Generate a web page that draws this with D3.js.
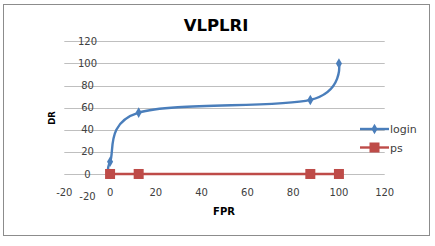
<!DOCTYPE html>
<html>
<head>
<meta charset="utf-8">
<script src="https://cdn.jsdelivr.net/npm/d3@7"></script>
<style>
    body { margin: 0; background: #fff; }
    svg { display: block; }
</style>
</head>
<body>
<div id="chart"></div>
<script>
// VLPLRI - DR vs FPR scatter with smoothed lines

const loginFPR = [0, 0, 12.5, 87.5, 100];
const loginDR = [0, 11, 55.5, 67, 100];
const psFPR = [0, 12.5, 87.5, 100];
const psDR = [0, 0, 0, 0];
const xTicks = [-20, 0, 20, 40, 60, 80, 100, 120];
const yTicks = [-20, 0, 20, 40, 60, 80, 100, 120];
const seriesNames = ['login', 'ps'];

const width = 435;
const height = 246;
const blue = '#4a7ebb';
const red = '#be4b48';
const textColor = '#404040';
const font = 'DejaVu Sans, Verdana, sans-serif';

const svg = d3.select('#chart')
    .append('svg')
    .attr('width', width)
    .attr('height', height);

// outer frame
svg.append('rect')
    .attr('x', 3.5)
    .attr('y', 4.5)
    .attr('width', 426)
    .attr('height', 231)
    .attr('fill', '#fff')
    .attr('stroke', '#8c8c8c')
    .attr('stroke-width', 1);

const xScale = d3.scaleLinear()
    .domain([-20, 120])
    .range([64.3, 384.7]);

const yScale = d3.scaleLinear()
    .domain([-20, 120])
    .range([196.1, 41.3]);

// gridlines (none at the bottom edge)
svg.append('g')
    .selectAll('line')
    .data(yTicks.filter(d => d >= 0))
    .enter()
    .append('line')
    .attr('x1', xScale(-20))
    .attr('x2', xScale(120))
    .attr('y1', d => Math.round(yScale(d)) + 0.5)
    .attr('y2', d => Math.round(yScale(d)) + 0.5)
    .attr('stroke', '#bfbfbf')
    .attr('stroke-width', 1.2);

// y tick labels
svg.append('g')
    .selectAll('text')
    .data(yTicks)
    .enter()
    .append('text')
    .attr('x', 87.5)
    .attr('y', d => yScale(d) + 3.6)
    .attr('text-anchor', 'middle')
    .style('font-family', font)
    .style('font-size', '10px')
    .style('fill', textColor)
    .text(d => d);

// x tick labels
svg.append('g')
    .selectAll('text')
    .data(xTicks)
    .enter()
    .append('text')
    .attr('x', d => xScale(d))
    .attr('y', 195.5)
    .attr('text-anchor', 'middle')
    .style('font-family', font)
    .style('font-size', '10px')
    .style('fill', textColor)
    .text(d => d);

// title
svg.append('text')
    .attr('x', 216)
    .attr('y', 31)
    .attr('text-anchor', 'middle')
    .style('font-family', font)
    .style('font-size', '16.5px')
    .style('font-weight', 'bold')
    .style('fill', '#000')
    .text('VLPLRI');

// axis titles
svg.append('text')
    .attr('x', 224)
    .attr('y', 215)
    .attr('text-anchor', 'middle')
    .style('font-family', font)
    .style('font-size', '10px')
    .style('font-weight', 'bold')
    .style('fill', '#000')
    .text('FPR');

svg.append('text')
    .attr('transform', 'translate(54.5,118) rotate(-90)')
    .attr('text-anchor', 'middle')
    .style('font-family', font)
    .style('font-size', '8.5px')
    .style('font-weight', 'bold')
    .style('fill', '#000')
    .text('DR');

const loginPts = loginFPR.map((x, i) => [xScale(x), yScale(loginDR[i])]);
const psPts = psFPR.map((x, i) => [xScale(x), yScale(psDR[i])]);

const smooth = d3.line().curve(d3.curveCatmullRom.alpha(0));
const straight = d3.line();

// login series
svg.append('path')
    .attr('d', smooth(loginPts))
    .attr('fill', 'none')
    .attr('stroke', blue)
    .attr('stroke-width', 2.4);

const diamond = d3.symbol().type(d3.symbolDiamond).size(32);

svg.append('g')
    .selectAll('path')
    .data(loginPts)
    .enter()
    .append('path')
    .attr('d', diamond)
    .attr('transform', d => `translate(${d[0]},${d[1]})`)
    .attr('fill', blue);

// ps series
svg.append('path')
    .attr('d', straight(psPts))
    .attr('fill', 'none')
    .attr('stroke', red)
    .attr('stroke-width', 2.4);

svg.append('g')
    .selectAll('rect')
    .data(psPts)
    .enter()
    .append('rect')
    .attr('x', d => d[0] - 5)
    .attr('y', d => d[1] - 5)
    .attr('width', 10)
    .attr('height', 10)
    .attr('fill', red);

// legend
const legend = svg.append('g');
const legendY = [129, 147.5];
const legendColors = [blue, red];

seriesNames.forEach((name, i) => {
    legend.append('line')
        .attr('x1', 360)
        .attr('x2', 389)
        .attr('y1', legendY[i])
        .attr('y2', legendY[i])
        .attr('stroke', legendColors[i])
        .attr('stroke-width', 2.4);

    if (i === 0) {
        legend.append('path')
            .attr('d', diamond)
            .attr('transform', `translate(374.5,${legendY[i]})`)
            .attr('fill', blue);
    } else {
        legend.append('rect')
            .attr('x', 369.5)
            .attr('y', legendY[i] - 5)
            .attr('width', 10)
            .attr('height', 10)
            .attr('fill', red);
    }

    legend.append('text')
        .attr('x', 390)
        .attr('y', legendY[i] + 4)
        .style('font-family', font)
        .style('font-size', '11px')
        .style('fill', textColor)
        .text(name);
});
</script>
</body>
</html>
